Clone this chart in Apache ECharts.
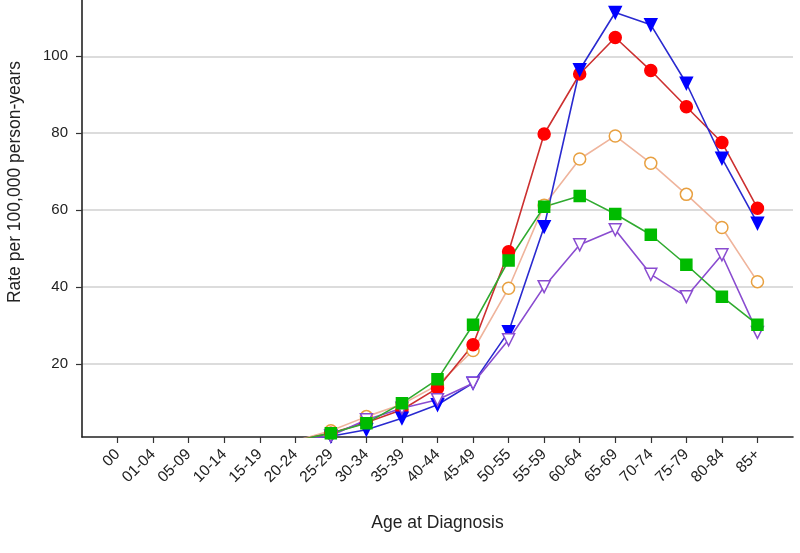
<!DOCTYPE html>
<html>
<head>
<meta charset="utf-8">
<script src="https://cdn.jsdelivr.net/npm/echarts@6/dist/echarts.min.js"></script>
<style>
html,body{margin:0;padding:0;background:#fff;}
#chart{width:800px;height:553px;}
</style>
</head>
<body>
<div id="chart"></div>
<script>
var categories = ['00','01-04','05-09','10-14','15-19','20-24','25-29','30-34','35-39','40-44','45-49','50-55','55-59','60-64','65-69','70-74','75-79','80-84','85+'];
var redCircle    = [null,null,null,null,null,0,2.0,4.8,8.1,13.7,25.0,49.2,79.8,95.4,104.9,96.3,86.9,77.6,60.5];
var blueTriangle = [null,null,null,null,null,0,1.2,2.9,5.9,9.4,15.0,28.4,55.7,96.5,111.4,108.2,93.0,73.5,56.6];
var orangeCircle = [null,null,null,null,null,0,2.6,6.3,9.5,14.5,23.5,39.7,61.3,73.3,79.3,72.2,64.1,55.5,41.4];
var greenSquare  = [null,null,null,null,null,0,2.0,4.6,9.8,16.0,30.2,46.9,60.9,63.7,59.0,53.6,45.8,37.5,30.2];
var purpleTriangle=[null,null,null,null,null,0,1.3,5.5,8.5,10.7,15.0,26.3,40.1,51.0,54.9,43.3,37.5,48.4,28.2];

var axisCats = [''].concat(categories).concat(['']);
function pad(arr){ return [null].concat(arr).concat([null]); }
var font = 'Liberation Sans, Arial, sans-serif';

var chart = echarts.init(document.getElementById('chart'));
function mk(name, data, symbol, size, rot, fill, stroke, lineColor){
  return {
    name: name, type: 'line', data: pad(data), symbol: symbol, symbolSize: size,
    symbolRotate: rot, connectNulls: false, clip: true,
    lineStyle: {color: lineColor, width: 1.6},
    itemStyle: {color: fill, borderColor: stroke, borderWidth: 1.5},
    emphasis: {disabled: true}
  };
}
chart.setOption({
  animation: false,
  grid: {left: 82, right: 7, top: 0, bottom: 116, containLabel: false},
  xAxis: {
    type: 'category', data: axisCats, boundaryGap: false,
    name: 'Age at Diagnosis', nameLocation: 'middle', nameGap: 77,
    nameTextStyle: {fontFamily: font, fontSize: 17.5, color: '#222'},
    axisLine: {lineStyle: {color: '#222', width: 1.6}},
    axisTick: {length: 6, lineStyle: {color: '#333', width: 1.2},
      interval: function(i, v){ return v !== ''; }},
    axisLabel: {interval: 0, rotate: 45, margin: 15, fontFamily: font, fontSize: 15.5, color: '#222'},
    splitLine: {show: false}
  },
  yAxis: {
    type: 'value', min: 1, max: 114.65, splitNumber: 5,
    axisLine: {show: true, lineStyle: {color: '#222', width: 1.6}},
    axisTick: {show: true, length: 6, lineStyle: {color: '#333', width: 1.2}},
    axisLabel: {showMinLabel: false, showMaxLabel: false, margin: 14, fontFamily: font, fontSize: 15, color: '#222'},
    splitLine: {show: true, showMinLine: false, showMaxLine: false, lineStyle: {color: '#d0d0d0', width: 1.5}}
  },
  graphic: [{
    type: 'text', x: 15, y: 182, rotation: Math.PI/2,
    style: {text: 'Rate per 100,000 person-years', fontFamily: font, fontSize: 17.5, fill: '#222',
      textAlign: 'center', textVerticalAlign: 'middle'}
  }],
  series: [
    mk('orange', orangeCircle, 'circle', 12, 0, '#ffffff', '#e8a040', '#efb49c'),
    mk('red', redCircle, 'circle', 12, 0, '#ff0000', '#ff0000', '#cc3030'),
    mk('blue', blueTriangle, 'triangle', 12, 180, '#0000ff', '#0000ff', '#2a2ad0'),
    mk('purple', purpleTriangle, 'triangle', 12, 180, '#ffffff', '#8a4cd0', '#8a4cd0'),
    mk('green', greenSquare, 'rect', 11, 0, '#00bb00', '#00bb00', '#30aa30')
  ]
});
</script>
</body>
</html>
